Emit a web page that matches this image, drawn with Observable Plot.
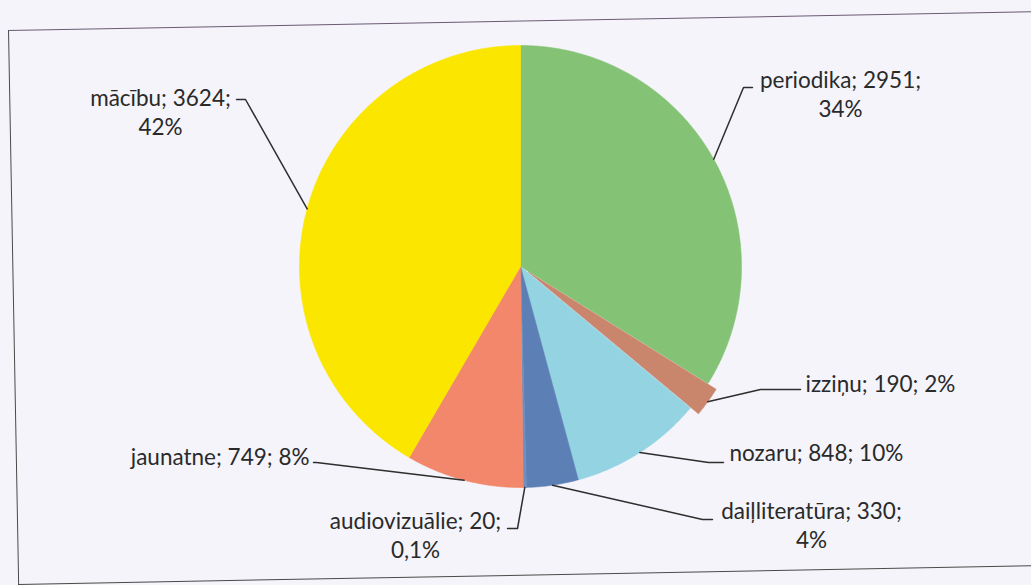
<!DOCTYPE html>
<html><head><meta charset="utf-8">
<script src="https://cdn.jsdelivr.net/npm/d3@7"></script>
<script src="https://cdn.jsdelivr.net/npm/@observablehq/plot@0.6"></script>
<style>
html,body{margin:0;padding:0;background:#f4f4fa;width:1031px;height:585px;overflow:hidden;}
#wrap{position:relative;width:1031px;height:585px;}
#frame{position:absolute;left:8px;top:30px;width:1100px;height:553px;border-left:1.5px solid #4a4a4a;border-top:1.5px solid #6a5a74;border-bottom:1.5px solid #4a4a4a;transform-origin:0 0;transform:rotate(-1.05deg);}
#chart{position:absolute;left:0;top:0;}
</style></head><body>
<div id="wrap"><div id="frame"></div><div id="chart"></div></div>
<script>
// ---- data ----
const categories = ["periodika", "izziņu", "nozaru", "daiļliteratūra", "audiovizuālie", "jaunatne", "mācību"];
const values = [2951, 190, 848, 330, 20, 749, 3624];
const shareLabels = ["34%", "2%", "10%", "4%", "0,1%", "8%", "42%"];
const sliceColors = ["#84c276", "#c9866c", "#93d3e2", "#5c80b5", "#6d8fc0", "#f2876c", "#fbe600"];

// ---- layout ----
const W = 1031, H = 585;
const cx = 520, cy = 266, R = 221;
const explode = [0, 10, 0, 0, 0, 0, 0];
const labelLayout = [
  {split: true,  x: 840, y: 80,  anchor: "middle", elbow: [743, 87],  end: [752, 87]},
  {split: false, x: 805, y: 384, anchor: "start",  elbow: [760, 389], end: [800, 389]},
  {split: false, x: 729, y: 453, anchor: "start",  elbow: [708, 462], end: [723, 462]},
  {split: true,  x: 811, y: 511, anchor: "middle", elbow: [702, 519], end: [712, 519]},
  {split: true,  x: 415, y: 521, anchor: "middle", elbow: [517, 528], end: [507, 528]},
  {split: false, x: 309, y: 457, anchor: "end",    elbow: [316, 462], end: [313, 462]},
  {split: true,  x: 160, y: 98,  anchor: "middle", elbow: [245, 99],  end: [236, 99]}
];
const lineGap = 29;

const arcs = d3.pie().sort(null).value(d => d)(values);
const pt = (a, r, dx = 0, dy = 0) => [cx + dx + r * Math.sin(a), cy + dy - r * Math.cos(a)];

const slicePts = [];
arcs.forEach((a, i) => {
  const mid = (a.startAngle + a.endAngle) / 2;
  const ox = explode[i] * Math.sin(mid), oy = -explode[i] * Math.cos(mid);
  const c = [cx + ox, cy + oy];
  slicePts.push({name: categories[i], x: c[0], y: c[1]});
  const n = Math.max(2, Math.ceil((a.endAngle - a.startAngle) / 0.005));
  for (let k = 0; k <= n; k++) {
    const ang = a.startAngle + (a.endAngle - a.startAngle) * k / n;
    const [x, y] = pt(ang, R, ox, oy);
    slicePts.push({name: categories[i], x, y});
  }
  slicePts.push({name: categories[i], x: c[0], y: c[1]});
});

const leaderPts = [];
arcs.forEach((a, i) => {
  const mid = (a.startAngle + a.endAngle) / 2;
  const [x0, y0] = pt(mid, R + explode[i]);
  const L = labelLayout[i];
  leaderPts.push({name: categories[i], x: x0, y: y0});
  leaderPts.push({name: categories[i], x: L.elbow[0], y: L.elbow[1]});
  leaderPts.push({name: categories[i], x: L.end[0], y: L.end[1]});
});

const labelRows = [];
categories.forEach((c, i) => {
  const L = labelLayout[i];
  if (L.split) {
    labelRows.push({t: `${c}; ${values[i]};`, x: L.x, y: L.y, anchor: L.anchor});
    labelRows.push({t: shareLabels[i], x: L.x, y: L.y + lineGap, anchor: L.anchor});
  } else {
    labelRows.push({t: `${c}; ${values[i]}; ${shareLabels[i]}`, x: L.x, y: L.y, anchor: L.anchor});
  }
});

const textOpts = {x: "x", y: "y", text: "t", fontSize: 22.5, fontFamily: "Lato, 'Open Sans', sans-serif", fill: "#2a2a2a", lineAnchor: "middle"};

const chart = Plot.plot({
  width: W, height: H,
  margin: 0,
  style: {background: "transparent", overflow: "visible"},
  x: {domain: [0, W], range: [0, W], axis: null},
  y: {domain: [0, H], range: [0, H], axis: null},
  color: {domain: categories, range: sliceColors},
  marks: [
    Plot.line(slicePts, {x: "x", y: "y", z: "name", fill: "name", stroke: "name", strokeWidth: 0.6, curve: "linear"}),
    Plot.line(leaderPts, {x: "x", y: "y", z: "name", stroke: "#2e2e2e", strokeWidth: 1.5, curve: "linear"}),
    Plot.text(labelRows.filter(d => d.anchor === "middle"), {...textOpts, textAnchor: "middle"}),
    Plot.text(labelRows.filter(d => d.anchor === "start"), {...textOpts, textAnchor: "start"}),
    Plot.text(labelRows.filter(d => d.anchor === "end"), {...textOpts, textAnchor: "end"})
  ]
});
document.getElementById("chart").appendChild(chart);
</script>
</body></html>
